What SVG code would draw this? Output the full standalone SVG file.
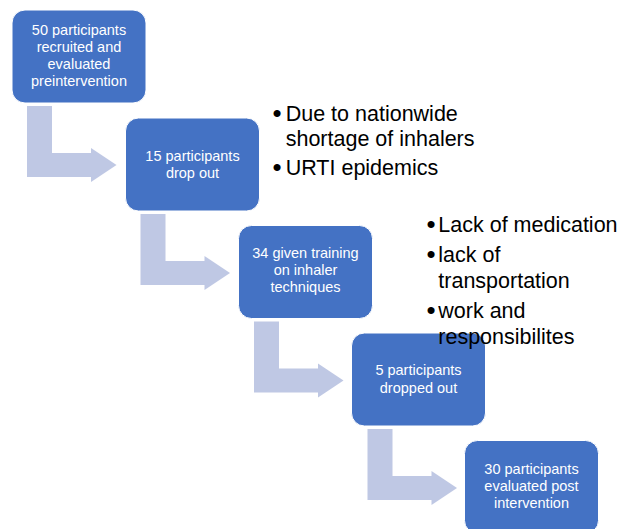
<svg xmlns="http://www.w3.org/2000/svg" width="624" height="529" viewBox="0 0 624 529">
<defs>
<style>
.box{fill:#4472C4;stroke:#ffffff;stroke-width:1}
.arr{fill:#BFC8E4}
.bt{font-family:"Liberation Sans",Arial,sans-serif;font-size:14.5px;fill:#ffffff;text-anchor:middle}
.note{font-family:"Liberation Sans",Arial,sans-serif;font-size:21.5px;fill:#000000}
.bul{font-family:"Liberation Sans",Arial,sans-serif;font-size:26px;fill:#000000}
</style>
<path id="arrowShape" d="M27,106 H52 V153 H91 V148 L116.5,165 L91,182 V177 H27 Z"/>
</defs>
<rect width="624" height="529" fill="#ffffff"/>
<g id="connectors">
<use href="#arrowShape" class="arr"/>
<use href="#arrowShape" class="arr" transform="translate(113.5,108)"/>
<use href="#arrowShape" class="arr" transform="translate(227,215.5)"/>
<use href="#arrowShape" class="arr" transform="translate(340.5,323)"/>
</g>
<g id="node1">
<rect class="box" x="12" y="10" width="134" height="93" rx="13"/>
<text class="bt" x="79" y="35">50 participants</text>
<text class="bt" x="79" y="52">recruited and</text>
<text class="bt" x="79" y="69">evaluated</text>
<text class="bt" x="79" y="86">preintervention</text>
</g>
<g id="node2">
<rect class="box" x="125.5" y="118" width="134" height="93" rx="13"/>
<text class="bt" x="192.5" y="161">15 participants</text>
<text class="bt" x="192.5" y="178">drop out</text>
</g>
<g id="node3">
<rect class="box" x="238.5" y="225.5" width="134" height="93" rx="13"/>
<text class="bt" x="305.5" y="257.5">34 given training</text>
<text class="bt" x="305.5" y="274.5">on inhaler</text>
<text class="bt" x="305.5" y="291.5">techniques</text>
</g>
<g id="node4">
<rect class="box" x="351.5" y="333" width="134" height="93" rx="13"/>
<text class="bt" x="418.5" y="375">5 participants</text>
<text class="bt" x="418.5" y="392.5">dropped out</text>
</g>
<g id="node5">
<rect class="box" x="464.5" y="440.5" width="134" height="93" rx="13"/>
<text class="bt" x="531.5" y="473.5">30 participants</text>
<text class="bt" x="531.5" y="490.5">evaluated post</text>
<text class="bt" x="531.5" y="508">intervention</text>
</g>
<g id="notes1">
<text class="bul" x="272.5" y="121.5">•</text>
<text class="note" x="285.7" y="120.5">Due to nationwide</text>
<text class="note" x="285.7" y="145.5">shortage of inhalers</text>
<text class="bul" x="272.5" y="176">•</text>
<text class="note" x="285.7" y="175">URTI epidemics</text>
</g>
<g id="notes2">
<text class="bul" x="426.5" y="232.5">•</text>
<text class="note" x="438.3" y="231.5">Lack of medication</text>
<text class="bul" x="426.5" y="263">•</text>
<text class="note" x="438.3" y="262">lack of</text>
<text class="note" x="438.3" y="287.5">transportation</text>
<text class="bul" x="426.5" y="319">•</text>
<text class="note" x="438.3" y="318">work and</text>
<text class="note" x="438.3" y="343.5">responsibilites</text>
</g>
</svg>
